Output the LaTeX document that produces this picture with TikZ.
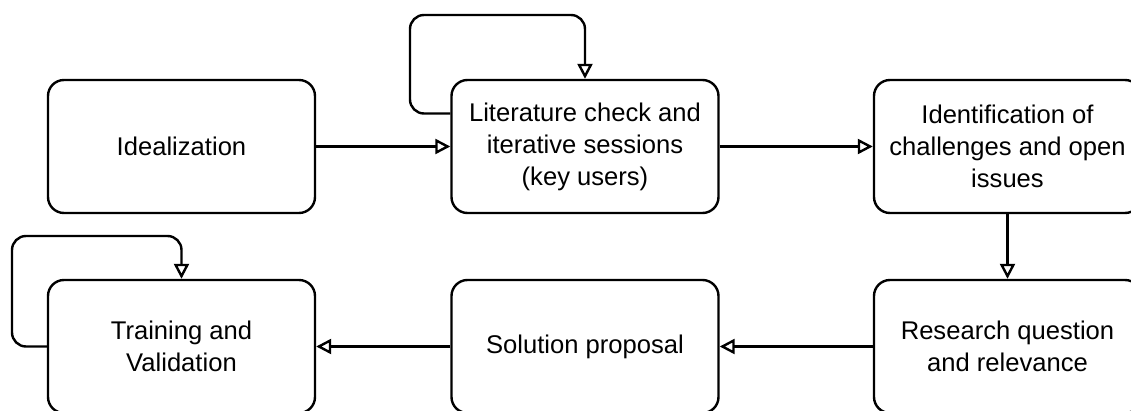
\documentclass[tikz,border=0pt]{standalone}
\usepackage{fontspec}
\setmainfont{Liberation Sans}
\usepackage{tikz}
\usetikzlibrary{positioning,arrows.meta}

\begin{document}
\begin{tikzpicture}[x=0.5pt,y=-0.5pt,
    box/.style={draw, line width=1.2pt, rounded corners=8pt, align=center,
        minimum width=133.5pt, minimum height=66.5pt, font=\fontsize{12.8}{16}\selectfont},
    flow/.style={draw, line width=1.2pt, -{Triangle[open, length=7.5pt, width=7.5pt]}}]
    % 
    \clip (0,0) rectangle (1131,411);

    % 
    \node[box] (ideal) at (181.5,146.5) {Idealization};
    \node[box] (lit) at (585,146.5) {Literature check and\\iterative sessions\\(key users)};
    \node[box] (ident) at (1007.5,146.5) {Identification of\\challenges and open\\issues};

    % 
    \node[box] (research) at (1007.5,346.5) {Research question\\and relevance};
    \node[box] (solution) at (585,346.5) {Solution proposal};
    \node[box] (train) at (181.5,346.5) {Training and\\Validation};

    % 
    \draw[flow] (ideal) -- (lit);
    \draw[flow] (lit) -- (ident);
    \draw[flow] (ident) -- (research);
    \draw[flow] (research) -- (solution);
    \draw[flow] (solution) -- (train);

    % 
    \coordinate (litloop) at (410,15);
    \coordinate (trainloop) at (12,236);
    \draw[flow, rounded corners=7pt] ([yshift=16.5pt]lit.west) -| (litloop) -| (lit.north);
    \draw[flow, rounded corners=7pt] (train.west) -| (trainloop) -| (train.north);
\end{tikzpicture}
\end{document}
